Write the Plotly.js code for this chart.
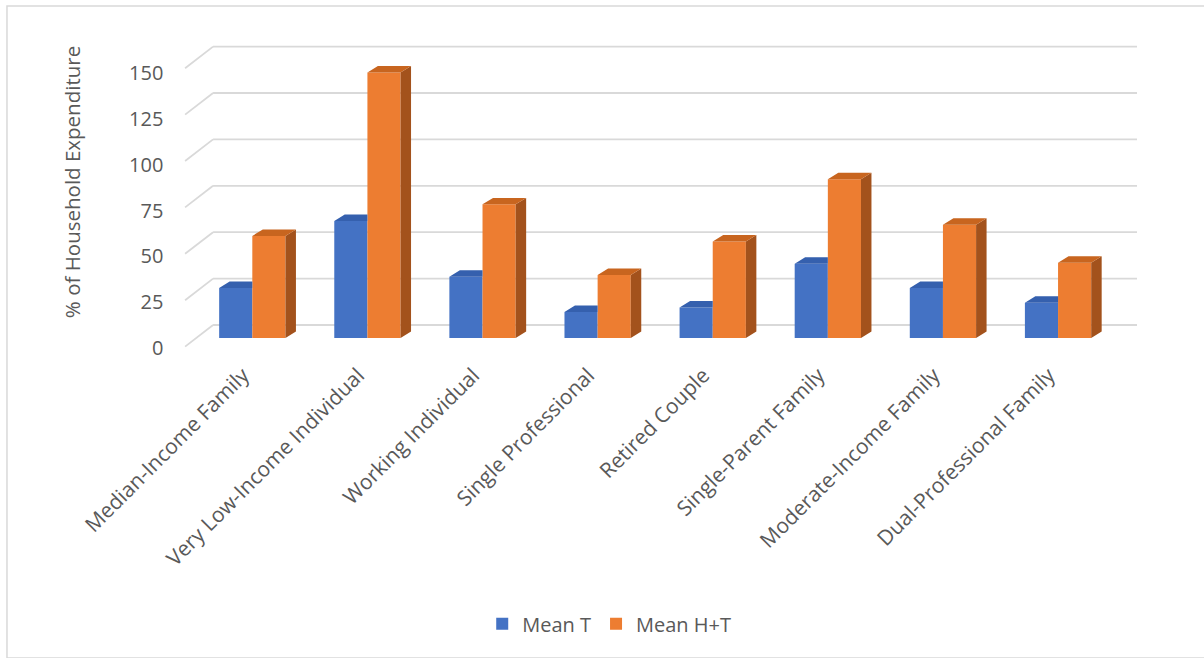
<!DOCTYPE html>
<html>
<head>
<meta charset="utf-8">
<script src="https://cdn.plot.ly/plotly-3.0.1.min.js"></script>
<style>html,body{margin:0;padding:0;background:#fff;}#chart{width:1204px;height:658px;}</style>
</head>
<body>
<div id="chart"></div>
<script>
// ---- data ----
const categories = ["Median-Income Family", "Very Low-Income Individual", "Working Individual",
  "Single Professional", "Retired Couple", "Single-Parent Family", "Moderate-Income Family",
  "Dual-Professional Family"];
const meanT  = [27, 63, 33, 14, 16.5, 40, 27, 19];
const meanHT = [55, 143, 72, 34, 52, 85.5, 61, 40.5];
const yTicks = [0, 25, 50, 75, 100, 125, 150];
const seriesNames = ["Mean T", "Mean H+T"];

// ---- styling / 3D geometry constants ----
const BLUE = "#4472C4", BLUE_TOP = "#3560AE";
const ORANGE = "#ED7D31", ORANGE_TOP = "#C8651F", ORANGE_SIDE = "#A3521C";
const BW = 0.288;     // bar width (category units)
const DX = 0.091;     // depth offset x
const DY = 3.5;       // depth offset y (value units)
const WALL_DY = 7.0;  // back wall offset (value units)
const WALL_X0 = -0.341, WALL_X1 = 7.686, FLOOR_X = -0.584, FLOOR_DY = -11.64;
const LABEL_SHIFT = -0.08; // category label placement tweak
const GRID = "#D9D9D9";
const TXT = "#595959";
const FONT = "Open Sans, Noto Sans, sans-serif";

const idx = categories.map((_, i) => i);

function faces(vals, xOff, mode) {
  const xs = [], ys = [];
  vals.forEach((v, i) => {
    const xl = i + xOff, xr = xl + BW;
    if (mode === "topClip") {
      xs.push(xl, xl + DX, xr, xr, xl, null);
      ys.push(v, v + DY, v + DY, v, v, null);
    } else if (mode === "top") {
      xs.push(xl, xl + DX, xr + DX, xr, xl, null);
      ys.push(v, v + DY, v + DY, v, v, null);
    } else {
      xs.push(xr, xr + DX, xr + DX, xr, xr, null);
      ys.push(0, DY, v + DY, v, 0, null);
    }
  });
  return {xs, ys};
}

function faceTrace(f, color) {
  return {type: "scatter", x: f.xs, y: f.ys, yaxis: "y2", mode: "lines",
    line: {width: 0, color: color}, fill: "toself", fillcolor: color,
    hoverinfo: "skip", showlegend: false};
}

const bTop = faces(meanT, -BW, "topClip");
const oTop = faces(meanHT, 0, "top");
const oSide = faces(meanHT, 0, "side");

const traces = [
  // invisible anchor trace so the value axis (tick labels) is drawn
  {type: "scatter", x: yTicks.map(() => FLOOR_X), y: yTicks, yaxis: "y", mode: "markers",
   marker: {opacity: 0, size: 1}, hoverinfo: "skip", showlegend: false},
  {type: "bar", name: seriesNames[0], x: idx, y: meanT, yaxis: "y2", offset: -BW, width: BW,
   marker: {color: BLUE, line: {width: 0}}, hoverinfo: "skip"},
  {type: "bar", name: seriesNames[1], x: idx, y: meanHT, yaxis: "y2", offset: 0, width: BW,
   marker: {color: ORANGE, line: {width: 0}}, hoverinfo: "skip"},
  faceTrace(bTop, BLUE_TOP),
  faceTrace(oSide, ORANGE_SIDE),
  faceTrace(oTop, ORANGE_TOP)
];

// gridlines: back wall + floor diagonal, built from tick values
const shapes = [];
yTicks.forEach(v => {
  shapes.push({type: "line", xref: "x", yref: "y2", x0: WALL_X0, x1: WALL_X1,
    y0: v + WALL_DY, y1: v + WALL_DY, line: {color: GRID, width: 1.8}, layer: "below"});
  shapes.push({type: "line", xref: "x", yref: "y2", x0: FLOOR_X, x1: WALL_X0,
    y0: v + WALL_DY + FLOOR_DY, y1: v + WALL_DY, line: {color: GRID, width: 1.8}, layer: "below"});
});
// chart border
shapes.push({type: "rect", xref: "paper", yref: "paper", x0: 0.0058, x1: 1.003, y0: -0.9, y1: 1.0176,
  line: {color: "#D9D9D9", width: 1.5}, fillcolor: "rgba(0,0,0,0)", layer: "below"});

const layout = {
  width: 1204, height: 658,
  margin: {l: 0, r: 0, t: 12, b: 306, pad: 0},
  paper_bgcolor: "#ffffff", plot_bgcolor: "rgba(0,0,0,0)",
  font: {family: FONT, color: TXT, size: 20},
  showlegend: true,
  barmode: "overlay",
  xaxis: {range: [-2.192, 8.268], tickmode: "array", tickvals: idx.map(i => i + LABEL_SHIFT),
    ticktext: categories,
    tickangle: -45, showgrid: false, zeroline: false, showline: false, ticks: "",
    ticklabelstandoff: 6,
    tickfont: {size: 21, color: TXT, family: FONT}, fixedrange: true},
  yaxis: {range: [-2.183, 183.41], anchor: "free", position: 0.1357, tickmode: "array",
    tickvals: yTicks, showgrid: false, zeroline: false, showline: false, ticks: "",
    tickfont: {size: 20, color: TXT, family: FONT},
    title: {text: "% of Household Expenditure", font: {size: 20.5, color: TXT, family: FONT}, standoff: 41},
    fixedrange: true},
  yaxis2: {range: [-7.543, 175.65], overlaying: "y", visible: false, fixedrange: true},
  legend: {orientation: "h", xref: "container", yref: "container", x: 0.506, y: 0.052,
    xanchor: "center", yanchor: "middle", font: {size: 20, color: TXT, family: FONT},
    traceorder: "normal"},
  shapes: shapes
};

Plotly.newPlot("chart", traces, layout, {displayModeBar: false, staticPlot: true});
</script>
</body>
</html>
